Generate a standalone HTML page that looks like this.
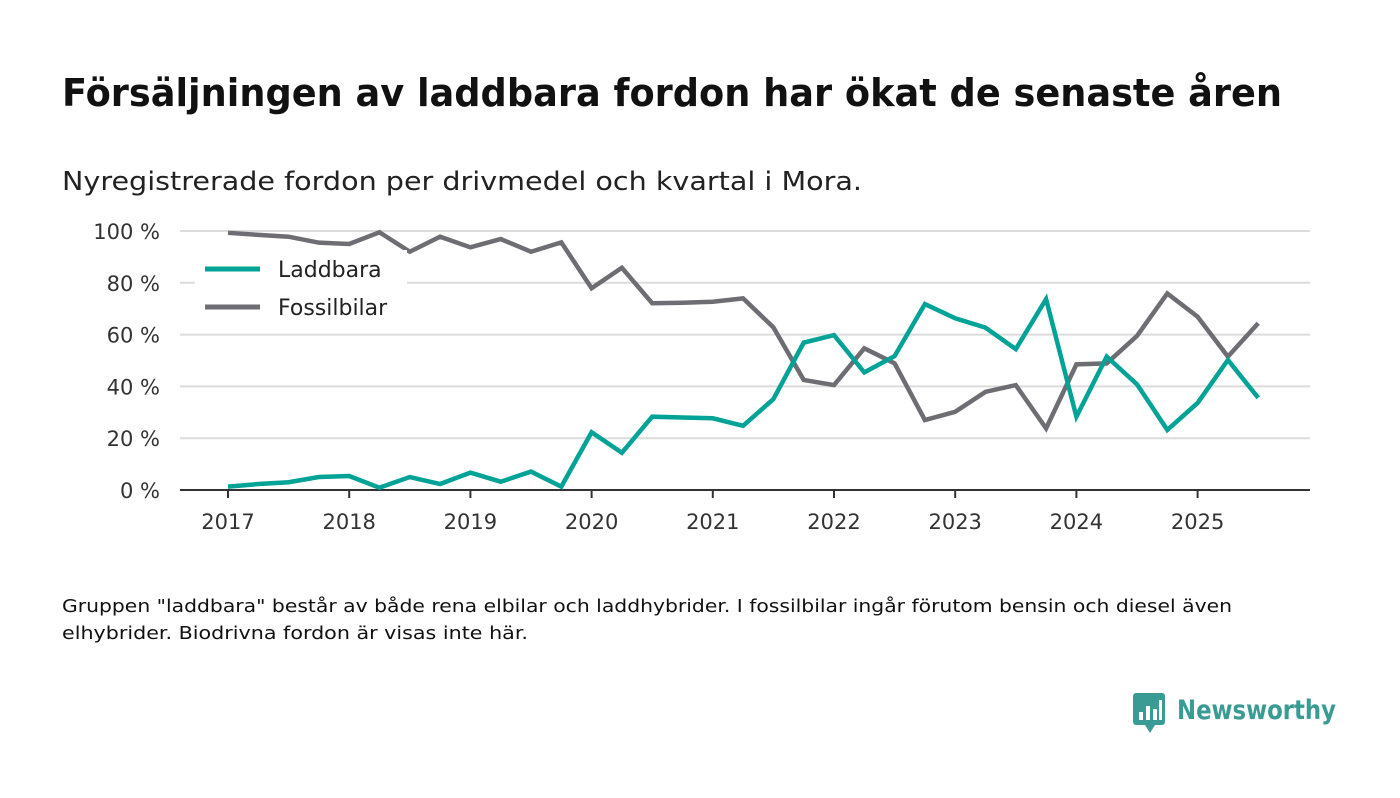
<!DOCTYPE html>
<html><head><meta charset="utf-8"><style>
body{margin:0;background:#fff;width:1400px;height:793px;overflow:hidden}
svg{font-family:"DejaVu Sans","Liberation Sans",sans-serif}
</style></head><body>
<svg width="1400" height="793" id="svg">
<text x="62" y="106" font-size="38" font-weight="bold" fill="#111" textLength="1220" lengthAdjust="spacingAndGlyphs">Försäljningen av laddbara fordon har ökat de senaste åren</text>
<text x="62" y="190" font-size="26" fill="#222" textLength="800" lengthAdjust="spacingAndGlyphs">Nyregistrerade fordon per drivmedel och kvartal i Mora.</text>
<g id="grid"></g>
<g id="ylab"></g>
<g id="xlab"></g>
<g id="series"></g>
<g>
<rect x="195" y="250" width="212" height="76" fill="#fff"/>
<line x1="205" y1="269" x2="260" y2="269" stroke="#00a396" stroke-width="5"/>
<text x="278" y="277" font-size="22" fill="#222">Laddbara</text>
<line x1="205" y1="307" x2="260" y2="307" stroke="#6e6d73" stroke-width="5"/>
<text x="278" y="315" font-size="22" fill="#222">Fossilbilar</text>
</g>
<text x="62" y="612" font-size="18" fill="#111" textLength="1170" lengthAdjust="spacingAndGlyphs">Gruppen "laddbara" består av både rena elbilar och laddhybrider. I fossilbilar ingår förutom bensin och diesel även</text>
<text x="62" y="639" font-size="18" fill="#111" textLength="466" lengthAdjust="spacingAndGlyphs">elhybrider. Biodrivna fordon är visas inte här.</text>
<g>
<rect x="1133" y="693" width="32" height="32" rx="3" fill="#3a9b94"/>
<polygon points="1145,725 1155,725 1150,733" fill="#3a9b94"/>
<rect x="1139" y="712" width="4" height="8" fill="#fff"/><rect x="1146" y="706" width="4" height="14" fill="#fff"/><rect x="1153" y="709" width="4" height="11" fill="#fff"/><rect x="1159" y="700" width="3" height="20" fill="#fff"/>
<text x="1177" y="719" font-size="27" font-weight="bold" fill="#3a9b94" textLength="159" lengthAdjust="spacingAndGlyphs">Newsworthy</text>
</g>
</svg>
<script>
const laddbara=[1.3,2.3,3.0,5.0,5.4,0.9,5.0,2.3,6.7,3.2,7.1,1.3,22.3,14.4,28.3,28.0,27.7,24.8,35.1,56.9,59.8,45.4,51.7,71.8,66.3,62.7,54.4,73.7,28.3,51.5,40.8,23.2,33.6,50.2,35.6];
const fossilbilar=[99.3,98.5,97.8,95.5,95.0,99.5,92.0,97.8,93.7,96.9,92.0,95.6,77.9,85.8,72.1,72.3,72.7,74.0,62.8,42.5,40.5,54.7,48.9,27.0,30.2,37.9,40.5,23.8,48.5,48.9,59.5,75.9,66.9,51.5,64.4];
const years=[2017,2018,2019,2020,2021,2022,2023,2024,2025];
const yTicks=[0,20,40,60,80,100];
const NS="http://www.w3.org/2000/svg";
const X=i=>228+i*30.3, Y=v=>490-v*2.59;
function mk(t,a,p){const e=document.createElementNS(NS,t);for(const k in a)e.setAttribute(k,a[k]);p.appendChild(e);return e;}
const grid=document.getElementById('grid'),yl=document.getElementById('ylab'),xl=document.getElementById('xlab'),ser=document.getElementById('series');
yTicks.forEach(t=>{
 if(t>0){const l=mk('line',{x1:180,x2:1310,y1:Y(t),y2:Y(t),stroke:'#dcdcdc','stroke-width':2},grid);
 
 }
 const tx=mk('text',{x:160,y:Y(t)+8,'font-size':21,fill:'#333','text-anchor':'end'},yl);tx.textContent=t+' %';
 
 
});
const ax=mk('line',{x1:180,x2:1310,y1:490,y2:490,stroke:'#333','stroke-width':2},grid);


years.forEach((y,k)=>{const x=X(k*4);
 const tk=mk('line',{x1:x,x2:x,y1:490,y2:498,stroke:'#333','stroke-width':2},xl);
 
 
 const tx=mk('text',{x:x,y:529,'font-size':21,fill:'#333','text-anchor':'middle'},xl);tx.textContent=y;
 
 
});
function line(d,c,n){const p=mk('polyline',{points:d.map((v,i)=>X(i)+','+Y(v)).join(' '),fill:'none',stroke:c,'stroke-width':4.5,'stroke-linejoin':'miter'},ser);
 
 }
line(fossilbilar,'#6e6d73','line-fossilbilar');
line(laddbara,'#00a396','line-laddbara');
</script>
</body></html>
